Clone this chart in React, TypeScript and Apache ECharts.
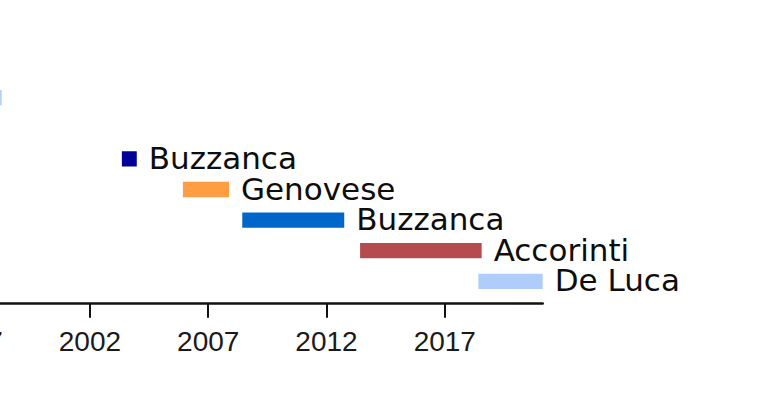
import React, { useEffect, useRef } from "react";
import * as echarts from "echarts";

// Timeline data (years)
const names = ["", "Buzzanca", "Genovese", "Buzzanca", "Accorinti", "De Luca"];
const rows = [0, 2, 3, 4, 5, 6];
const starts = [1994.0, 2003.35, 2005.93, 2008.44, 2013.42, 2018.42];
const ends = [1998.27, 2003.98, 2007.88, 2012.75, 2018.56, 2021.14];
const colors = ["#b4d0fa", "#000099", "#ff9d45", "#0066cc", "#b34b4f", "#afcdfa"];
const tickYears = [1997, 2002, 2007, 2012, 2017];

export default function App() {
  const ref = useRef<HTMLDivElement>(null);
  useEffect(() => {
    if (!ref.current) return;
    const chart = echarts.init(ref.current, null, { renderer: "svg" });
    const data = names.map((n, i) => [starts[i], ends[i], rows[i], i]);
    chart.setOption({
      animation: false,
      grid: {
        left: -30,
        right: 230.3,
        top: 0,
        bottom: 91.3,
        containLabel: false,
        outerBoundsMode: "none",
      },
      xAxis: {
        type: "value",
        min: 1996.93,
        max: 2021.14,
        splitLine: { show: false },
        axisLine: { show: true, onZero: false, lineStyle: { color: "#111", width: 2.5 } },
        axisTick: {
          show: true,
          customValues: tickYears,
          length: 14,
          lineStyle: { color: "#111", width: 2 },
        },
        axisLabel: {
          show: true,
          customValues: tickYears,
          formatter: (v: number) => String(v),
          fontFamily: "Liberation Sans",
          fontSize: 28,
          color: "#1a1a1a",
          margin: 24,
        },
      },
      yAxis: {
        type: "value",
        inverse: true,
        min: -3.193,
        max: 6.732,
        show: false,
        splitLine: { show: false },
      },
      series: [
        {
          type: "custom",
          clip: false,
          data,
          encode: { x: [0, 1], y: 2 },
          renderItem: (params: any, api: any) => {
            const i = api.value(3);
            const s = api.coord([api.value(0), api.value(2)]);
            const e = api.coord([api.value(1), api.value(2)]);
            const h = api.size([0, 0.5])[1];
            return {
              type: "group",
              children: [
                {
                  type: "rect",
                  shape: { x: s[0], y: s[1] - h / 2, width: e[0] - s[0], height: h },
                  style: { fill: colors[i] },
                },
                {
                  type: "text",
                  x: e[0] + 12,
                  y: s[1] - 1,
                  style: {
                    text: names[i],
                    fill: "#0d0d0d",
                    fontFamily: "DejaVu Sans",
                    fontSize: 31,
                    align: "left",
                    verticalAlign: "middle",
                  },
                },
              ],
            };
          },
        },
      ],
    });
    return () => chart.dispose();
  }, []);
  return (
    <div
      ref={ref}
      style={{ position: "absolute", left: 0, top: 0, width: 773, height: 395, background: "#fff" }}
    />
  );
}
